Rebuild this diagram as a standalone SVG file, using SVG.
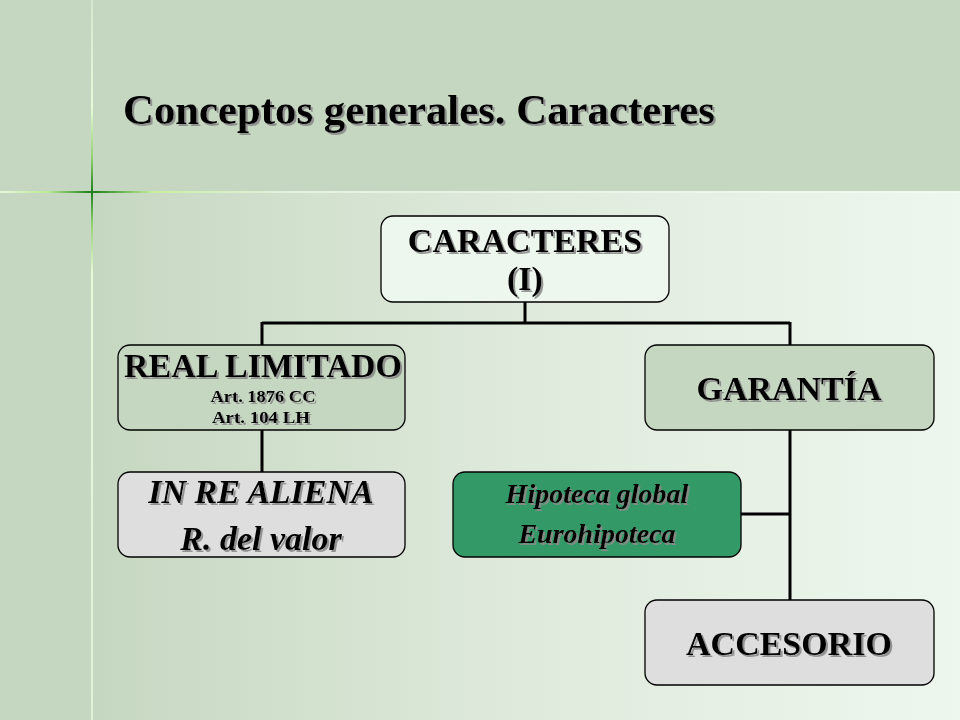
<svg xmlns="http://www.w3.org/2000/svg" width="960" height="720" viewBox="0 0 960 720">
<defs>
<linearGradient id="bg" x1="92" y1="0" x2="960" y2="0" gradientUnits="userSpaceOnUse">
<stop offset="0" stop-color="#c6d7c1"/>
<stop offset="0.5" stop-color="#dfeadc"/>
<stop offset="1" stop-color="#eef7ee"/>
</linearGradient>
<linearGradient id="hl" x1="0" y1="0" x2="960" y2="0" gradientUnits="userSpaceOnUse">
<stop offset="0" stop-color="#e8f7dc"/>
<stop offset="0.05" stop-color="#b8ec90"/>
<stop offset="0.085" stop-color="#3a9a2a"/>
<stop offset="0.096" stop-color="#1c7e1c"/>
<stop offset="0.11" stop-color="#3a9a2a"/>
<stop offset="0.16" stop-color="#c8f0a0"/>
<stop offset="0.3" stop-color="#e4f0e0"/>
<stop offset="1" stop-color="#f4faf2"/>
</linearGradient>
<linearGradient id="vl" x1="0" y1="0" x2="0" y2="720" gradientUnits="userSpaceOnUse">
<stop offset="0" stop-color="#d8e8d0"/>
<stop offset="0.15" stop-color="#e8fad8"/>
<stop offset="0.22" stop-color="#90d070"/>
<stop offset="0.267" stop-color="#1c7e1c"/>
<stop offset="0.31" stop-color="#90d070"/>
<stop offset="0.38" stop-color="#e8fad8"/>
<stop offset="1" stop-color="#e0f2d8"/>
</linearGradient>
<filter id="sh" x="-5%" y="-20%" width="110%" height="140%">
<feDropShadow dx="2" dy="2" stdDeviation="0.6" flood-color="#8a8a8a" flood-opacity="0.9"/>
</filter>
<style>
.node{stroke:#000;stroke-width:1.3}
.t{font-family:"Liberation Serif","Times New Roman",serif;font-weight:bold;fill:#000;text-anchor:middle;filter:url(#sh)}
.i{font-style:italic}
.c{fill:none;stroke:#000;stroke-width:3}
</style>
</defs>
<rect x="0" y="0" width="960" height="720" fill="#c6d7c1"/>
<rect x="92" y="192" width="868" height="528" fill="url(#bg)"/>
<rect x="0" y="191" width="960" height="2" fill="url(#hl)"/>
<rect x="91" y="0" width="2" height="720" fill="url(#vl)"/>

<text class="t" x="123" y="124" font-size="43" textLength="592" lengthAdjust="spacingAndGlyphs" style="text-anchor:start">Conceptos generales. Caracteres</text>

<g id="connectors">
<path class="c" d="M525 302 V323 M262 323 H790 M262 322 V345 M790 322 V345"/>
<path class="c" d="M262 430 V472"/>
<path class="c" d="M790 430 V600"/>
<path class="c" d="M741 514 H790"/>
</g>

<g id="caracteres">
<rect class="node" x="381" y="216" width="288" height="86" rx="12" fill="#eef7ee"/>
<text class="t" x="525" y="252" font-size="34">CARACTERES</text>
<text class="t" x="525" y="290" font-size="34">(I)</text>
</g>

<g id="real-limitado">
<rect class="node" x="118" y="345" width="287" height="85" rx="12" fill="#c6d7c1"/>
<text class="t" x="263" y="377" font-size="34">REAL LIMITADO</text>
<text class="t" x="263" y="402" font-size="16" textLength="105" lengthAdjust="spacingAndGlyphs">Art. 1876 CC</text>
<text class="t" x="261" y="423" font-size="16" textLength="98" lengthAdjust="spacingAndGlyphs">Art. 104 LH</text>
</g>

<g id="garantia">
<rect class="node" x="645" y="345" width="289" height="85" rx="12" fill="#c6d7c1"/>
<text class="t" x="789" y="400" font-size="34">GARANTÍA</text>
</g>

<g id="in-re-aliena">
<rect class="node" x="118" y="472" width="287" height="85" rx="12" fill="#dedede"/>
<text class="t i" x="261" y="503" font-size="34">IN RE ALIENA</text>
<text class="t i" x="261" y="550" font-size="34">R. del valor</text>
</g>

<g id="hipoteca">
<rect class="node" x="453" y="472" width="288" height="85" rx="12" fill="#339966"/>
<text class="t i" x="597" y="503" font-size="28">Hipoteca global</text>
<text class="t i" x="597" y="543" font-size="28">Eurohipoteca</text>
</g>

<g id="accesorio">
<rect class="node" x="645" y="600" width="289" height="85" rx="12" fill="#dedede"/>
<text class="t" x="789" y="655" font-size="34">ACCESORIO</text>
</g>
</svg>
